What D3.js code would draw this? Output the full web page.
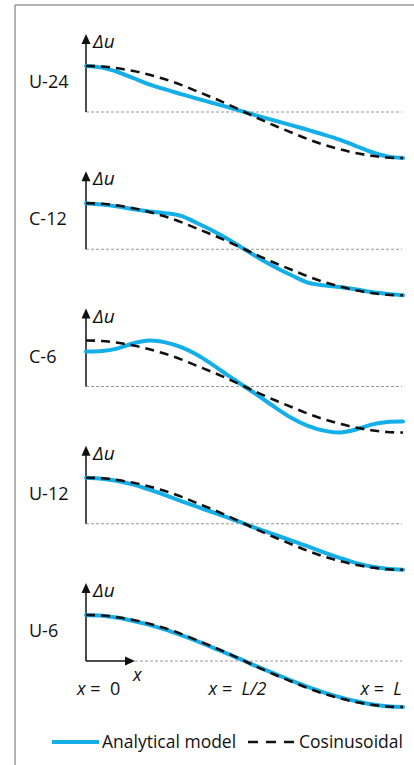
<!DOCTYPE html>
<html><head><meta charset="utf-8">
<script src="https://cdn.jsdelivr.net/npm/d3@7/dist/d3.min.js"></script>
<style>body{margin:0;background:#fff}svg{display:block;font-family:"Open Sans",sans-serif}</style>
</head><body><svg id="c" width="414" height="765"></svg>
<script>
// ---- data (normalised Δu) ----
const panels = ["U-24", "C-12", "C-6", "U-12", "U-6"];
const xPos = [0,0.05,0.1,0.15,0.2,0.25,0.3,0.35,0.4,0.45,0.5,0.55,0.6,0.65,0.7,0.75,0.8,0.85,0.9,0.95,1];
const cosinusoidal = [1,0.99,0.95,0.89,0.81,0.71,0.59,0.45,0.31,0.16,0,-0.16,-0.31,-0.45,-0.59,-0.71,-0.81,-0.89,-0.95,-0.99,-1];
const u24 = [1,0.965,0.87,0.735,0.6,0.49,0.39,0.29,0.195,0.1,0,-0.1,-0.195,-0.29,-0.39,-0.49,-0.6,-0.735,-0.87,-0.965,-1];
const c12 = [1,0.97,0.93,0.87,0.82,0.785,0.725,0.57,0.4,0.21,0,-0.21,-0.4,-0.57,-0.725,-0.785,-0.82,-0.87,-0.93,-0.97,-1];
const c6  = [0.76,0.77,0.83,0.94,1.0,0.96,0.855,0.69,0.47,0.23,0,-0.23,-0.47,-0.69,-0.855,-0.96,-1.0,-0.94,-0.83,-0.77,-0.76];
const u12 = [1,0.98,0.93,0.85,0.74,0.62,0.49,0.37,0.25,0.13,0,-0.13,-0.25,-0.37,-0.49,-0.62,-0.74,-0.85,-0.93,-0.98,-1];
const u6  = [1,0.985,0.94,0.87,0.785,0.68,0.56,0.43,0.29,0.15,0,-0.15,-0.29,-0.43,-0.56,-0.68,-0.785,-0.87,-0.94,-0.985,-1];
const analytical = [u24, c12, c6, u12, u6];
const tickPos = [0, 0.5, 1];
const tickLabels = ["0", "L/2", "L"];
const legendLabels = ["Analytical model", "Cosinusoidal"];

// ---- drawing ----
const BLUE = "#14aee8";
const svg = d3.select("#c");

// frame
svg.append("line").attr("x1",15).attr("y1",5).attr("x2",414).attr("y2",5).attr("stroke","#999").attr("stroke-width",1.5);
svg.append("line").attr("x1",15).attr("y1",5).attr("x2",15).attr("y2",765).attr("stroke","#999").attr("stroke-width",1.5);

const x = d3.scaleLinear().domain([0,1]).range([86,403]);
const base = d3.scalePoint().domain(panels).range([112,661]);
const amp = 46;

panels.forEach((p,i)=>{
  const b = base(p);
  const y = d3.scaleLinear().domain([-1,1]).range([b+amp, b-amp]);
  const g = svg.append("g");
  const last = i === panels.length-1;

  // dashed zero line
  g.append("line").attr("x1", last ? 135 : x(0)).attr("x2", 402).attr("y1", y(0)).attr("y2", y(0))
    .attr("stroke","#999").attr("stroke-width",1).attr("stroke-dasharray","3,2");

  // y axis with arrow
  const tip = y(0) - 78;
  g.append("line").attr("x1",x(0)).attr("x2",x(0)).attr("y1",y(0)).attr("y2",tip+8).attr("stroke","#111").attr("stroke-width",1.5);
  g.append("path").attr("d",`M${x(0)},${tip} L${x(0)-4.5},${tip+10} L${x(0)+4.5},${tip+10} Z`).attr("fill","#111");
  g.append("text").attr("x",x(0)+7).attr("y",tip+14).attr("font-style","italic").attr("font-size",19).attr("fill","#111").text("Δu");

  // panel label
  g.append("text").attr("x",29).attr("y",y(0)-24).attr("font-size",18).attr("fill","#111").text(p);

  const pts = xPos.map((v,k)=>[v, analytical[i][k]]);
  const cpts = xPos.map((v,k)=>[v, cosinusoidal[k]]);
  const line = d3.line().x(d=>x(d[0])).y(d=>y(d[1])).curve(d3.curveCatmullRom.alpha(0.5));
  g.append("path").attr("d",line(pts)).attr("fill","none").attr("stroke",BLUE).attr("stroke-width",4).attr("stroke-linecap","round");
  g.append("path").attr("d",line(cpts)).attr("fill","none").attr("stroke","#111").attr("stroke-width",2.6).attr("stroke-dasharray","9,6");

  if (last) {
    g.append("line").attr("x1",x(0)).attr("x2",127).attr("y1",y(0)).attr("y2",y(0)).attr("stroke","#111").attr("stroke-width",1.5);
    g.append("path").attr("d",`M135,${y(0)} L125,${y(0)-4.5} L125,${y(0)+4.5} Z`).attr("fill","#111");
    g.append("text").attr("x",133).attr("y",y(0)+20).attr("font-style","italic").attr("font-size",18).attr("fill","#111").text("x");
    const anchors = ["start","middle","end"];
    const offs = [-9, -7, -1];
    tickLabels.forEach((t,k)=>{
      const tx = g.append("text").attr("x",x(tickPos[k])+offs[k]).attr("y",y(0)+34).attr("font-size",18).attr("fill","#111")
        .attr("text-anchor",anchors[k]).attr("xml:space","preserve");
      tx.append("tspan").attr("font-style","italic").text("x");
      tx.append("tspan").text(" =  ");
      if (t === "0") tx.append("tspan").text(t);
      else tx.append("tspan").attr("font-style","italic").text(t);
    });
  }
});

// legend
const ly = 742;
svg.append("line").attr("x1",52).attr("x2",99).attr("y1",ly).attr("y2",ly).attr("stroke",BLUE).attr("stroke-width",4);
svg.append("text").attr("x",102).attr("y",ly+6).attr("font-size",17.5).attr("fill","#111").text(legendLabels[0]);
svg.append("line").attr("x1",248).attr("x2",296).attr("y1",ly).attr("y2",ly).attr("stroke","#111").attr("stroke-width",2.6).attr("stroke-dasharray","10,8");
svg.append("text").attr("x",299).attr("y",ly+6).attr("font-size",17.5).attr("fill","#111").text(legendLabels[1]);
</script></body></html>
